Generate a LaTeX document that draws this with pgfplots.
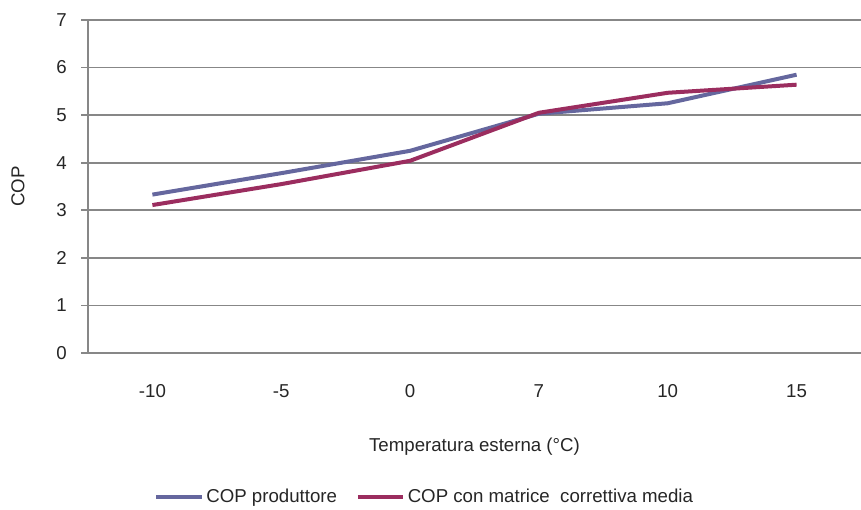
\documentclass[border=0pt]{standalone}
\usepackage{fontspec}
\setmainfont{Liberation Sans}
\usepackage{pgfplots}
\pgfplotsset{compat=1.18}
\definecolor{cprod}{HTML}{65679E}
\definecolor{cmat}{HTML}{9B2D5F}
\definecolor{gridc}{HTML}{878787}
\begin{document}
\begin{tikzpicture}
\fontsize{14}{16}\selectfont
\useasboundingbox (-66pt,-117.75pt) rectangle (579.75pt,264.75pt);
\begin{axis}[
  at={(0pt,0pt)}, anchor=south west,
  scale only axis, width=579.75pt, height=249.75pt,
  xmin=-0.5, xmax=5.5, ymin=0, ymax=7,
  axis x line*=bottom, axis y line*=left,
  axis line style={gridc, line width=1.2pt},
  xtick={0,1,2,3,4,5},
  xticklabels={-10,-5,0,7,10,15},
  x tick style={draw=none},
  extra x ticks={-0.5,0.5,1.5,2.5,3.5,4.5},
  extra x tick labels={},
  extra x tick style={tick align=outside, major tick length=6pt, tick style={draw=gridc, line width=1.2pt}, grid=none},
  ytick={0,1,...,7},
  tick align=outside,
  y tick style={draw=gridc, line width=1.2pt},
  major tick length=5pt,
  ymajorgrids,
  grid style={gridc, line width=1.2pt},
  /pgf/number format/assume math mode=true,
  ticklabel style={font=\fontsize{14}{16}\selectfont, text=black!85},
  xticklabel style={yshift=-14pt},
  yticklabel style={xshift=-6pt},
  xlabel={Temperatura esterna (°C)},
  xlabel style={at={(axis description cs:0.5,-0.2823)}, anchor=center, font=\fontsize{14}{16}\selectfont, text=black!85},
  ylabel={COP},
  ylabel style={at={(axis description cs:-0.0906,0.5)}, anchor=center, rotate=0, font=\fontsize{14}{16}\selectfont, text=black!85},
  legend style={at={(axis description cs:0.436,-0.4324)}, anchor=center, draw=none, fill=none,
    legend columns=2, font=\fontsize{14}{16}\selectfont, text=black!85,
    /tikz/every even column/.append style={column sep=12pt}},
  legend image code/.code={\draw[#1] (0pt,0pt) -- (34pt,0pt);},
  every axis plot/.append style={line width=3pt, line join=round},
]
\addplot[cprod, mark=none] coordinates {(0,3.33) (1,3.78) (2,4.25) (3,5.03) (4,5.25) (5,5.85)};
\addlegendentry{COP produttore}
\addplot[cmat, mark=none] coordinates {(0,3.11) (1,3.55) (2,4.04) (3,5.05) (4,5.47) (5,5.64)};
\addlegendentry{COP con matrice\ \ correttiva media}
\end{axis}
\end{tikzpicture}
\end{document}
